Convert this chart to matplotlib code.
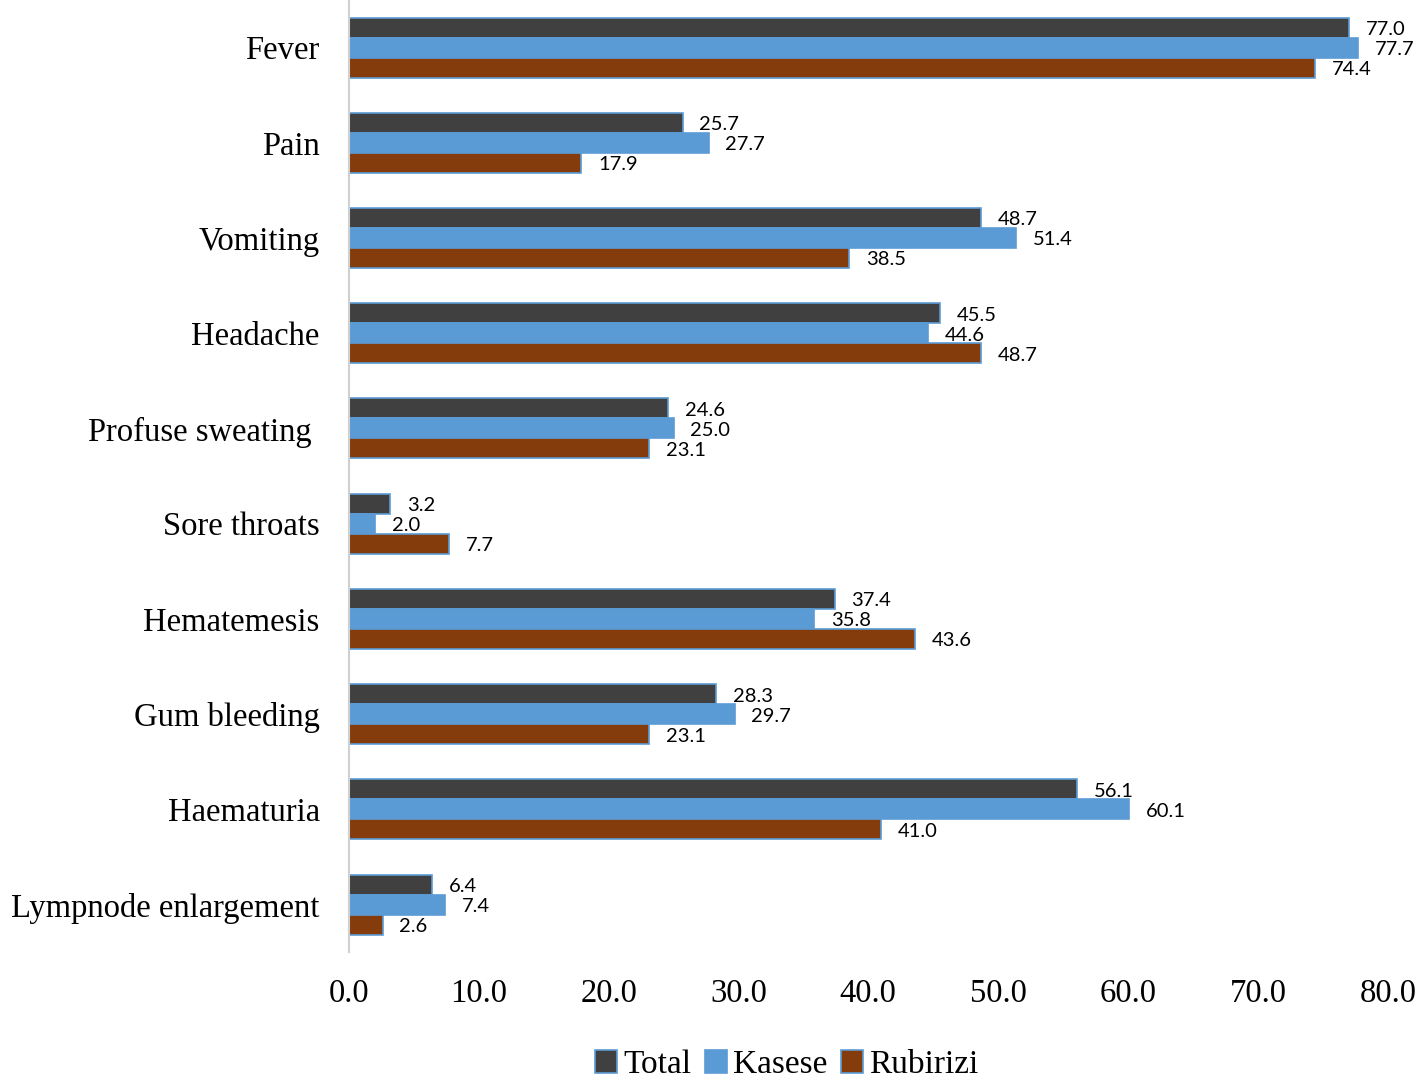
import numpy as np
import matplotlib
matplotlib.use("Agg")
import matplotlib.pyplot as plt
from matplotlib.patches import Patch

categories = ["Fever", "Pain", "Vomiting", "Headache", "Profuse sweating ",
              "Sore throats", "Hematemesis", "Gum bleeding", "Haematuria",
              "Lympnode enlargement"]
total = [77.0, 25.7, 48.7, 45.5, 24.6, 3.2, 37.4, 28.3, 56.1, 6.4]
kasese = [77.7, 27.7, 51.4, 44.6, 25.0, 2.0, 35.8, 29.7, 60.1, 7.4]
rubirizi = [74.4, 17.9, 38.5, 48.7, 23.1, 7.7, 43.6, 23.1, 41.0, 2.6]
series = ["Total", "Kasese", "Rubirizi"]
colors = ["#404040", "#5B9BD5", "#843C0C"]
edge = "#5B9BD5"

serif = "Liberation Serif"

fig = plt.figure(figsize=(14.18, 10.82), dpi=100)
ax = fig.add_axes([0.246, 0.12, 0.7327, 0.88])

y = np.arange(len(categories))
h = 0.21
for k, (vals, c) in enumerate(zip([total, kasese, rubirizi], colors)):
    pos = y + (k - 1) * h
    ax.barh(pos, vals, height=h, color=c, edgecolor=edge, linewidth=1.2)
    for p, v in zip(pos, vals):
        ax.text(v + 1.3, p + 0.02, f"{v:.1f}", va="center", ha="left",
                fontsize=14.5, family="Lato", color="black")

ax.set_ylim(len(categories) - 0.5, -0.5)
ax.set_xlim(0, 80)
ax.set_xticks(np.arange(0, 81, 10))
ax.set_xticklabels([f"{t:.1f}" for t in np.arange(0, 81, 10)],
                   family=serif, fontsize=23.5)
ax.set_yticks(y)
ax.set_yticklabels(categories, family=serif, fontsize=23.5)
ax.tick_params(axis="both", length=0)
ax.tick_params(axis="x", pad=19)
ax.tick_params(axis="y", pad=21)
for s in ["top", "right", "bottom"]:
    ax.spines[s].set_visible(False)
ax.spines["left"].set_color("#d0d0d0")
ax.spines["left"].set_linewidth(1.5)

handles = [Patch(facecolor=c, edgecolor=edge, linewidth=1.2) for c in colors]
fig.legend(handles, series, loc="lower center", bbox_to_anchor=(0.555, -0.026),
           ncol=3, frameon=False, prop={"family": serif, "size": 24},
           handlelength=0.65, handleheight=0.65, handletextpad=0.2,
           columnspacing=0.4)

fig.savefig("out.png", dpi=100)
